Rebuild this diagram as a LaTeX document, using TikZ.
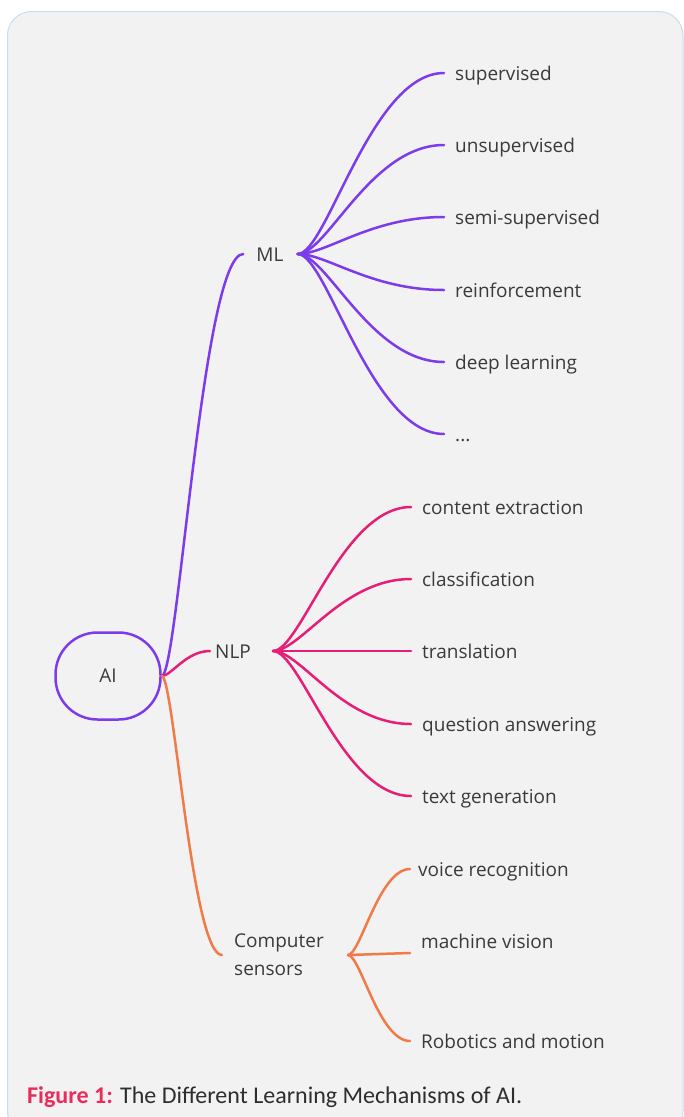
\documentclass[tikz,border=0pt]{standalone}
\usepackage{fontspec}
\setmainfont{Open Sans}
\newfontfamily\capfont{Carlito}
\usetikzlibrary{calc}
\definecolor{bgcol}{RGB}{242,242,242}
\definecolor{framecol}{RGB}{200,222,240}
\definecolor{mlcol}{RGB}{125,60,235}
\definecolor{nlpcol}{RGB}{230,30,120}
\definecolor{sencol}{RGB}{240,122,72}
\definecolor{txtcol}{RGB}{58,58,58}
\definecolor{figcol}{RGB}{232,45,90}
\tikzset{
  lbl/.style={font=\fontsize{19}{26}\selectfont, text=txtcol, inner sep=0pt, text height=16pt, text depth=2pt},
  leaf/.style={lbl, anchor=west},
  conn/.style={line width=2.5pt, line cap=round},
  curv/.style={to path={let \p1=(\tikztostart), \p2=(\tikztotarget), \n1={\x2-\x1} in
      .. controls (\x1+0.2*\n1,\y1) and (\x2-0.5*\n1,\y2) .. (\tikztotarget) \tikztonodes}},
  aibox/.style={draw=mlcol, line width=2.5pt, rounded corners=42pt, minimum width=105pt, minimum height=87pt,
      font=\fontsize{19}{26}\selectfont, text=txtcol}
}
\begin{document}
\begin{tikzpicture}[x=1pt,y=-1pt]
\useasboundingbox (0,0) rectangle (684,1117);
\begin{scope}
\clip (0,0) rectangle (684,1117);
\draw[framecol, fill=bgcol, line width=1pt, rounded corners=24pt] (7.5,11.5) rectangle (683,1135);
\end{scope}

% root
\node[aibox] (ai) at (108,676) {AI};

% level 1
\node[lbl] (ml) at (270,254) {ML};
\node[lbl] (nlp) at (233,651) {NLP};
\node[lbl, align=left, anchor=west, text height=, text depth=, font=\fontsize{19}{28}\selectfont] (sen) at (234,955) {Computer\\sensors};

% ML leaves
\node[leaf] (sup) at (455,73) {supervised};
\node[leaf] (uns) at (455,145) {unsupervised};
\node[leaf] (semi) at (455,217) {semi-supervised};
\node[leaf] (rein) at (455,290) {reinforcement};
\node[leaf] (deep) at (455,362) {deep learning};
\node[leaf] (dots) at (455,434) {...};

% NLP leaves
\node[leaf] (cont) at (422,507) {content extraction};
\node[leaf] (clas) at (422,579) {classification};
\node[leaf] (tran) at (422,651) {translation};
\node[leaf] (qa) at (422,724) {question answering};
\node[leaf] (tgen) at (422,796) {text generation};

% Sensor leaves
\node[leaf] (voice) at (418,869) {voice recognition};
\node[leaf] (mv) at (421,941) {machine vision};
\node[leaf] (rob) at (421,1041) {Robotics and motion};

% connectors from AI
\draw[conn, mlcol] (ai.east) to[curv] ([xshift=-13pt]ml.west);
\draw[conn, nlpcol] (ai.east) to[curv] ([xshift=-5pt]nlp.west);
\draw[conn, sencol] (ai.east) to[curv] ([xshift=-12pt]sen.west);

% ML branches
\foreach \t in {sup,uns,semi,rein,deep,dots}
  \draw[conn, mlcol] ([xshift=14pt]ml.east) to[curv] ([xshift=-11pt]\t.west);
% NLP branches
\foreach \t in {cont,clas,tran,qa,tgen}
  \draw[conn, nlpcol] ([xshift=22pt]nlp.east) to[curv] ([xshift=-11pt]\t.west);
% Sensor branches
\coordinate (senout) at ([xshift=24pt]sen.east);
\draw[conn, sencol] (senout) to[curv] ([xshift=-8pt]voice.west);
\draw[conn, sencol] (senout) -- (410,953);
\draw[conn, sencol] (senout) to[curv] ([xshift=-11pt]rob.west);

% caption
\node[anchor=base west, inner sep=0pt, font=\capfont\fontsize{24}{28}\selectfont, text=txtcol!80!black] (cap) at (27,1103)
  {\textcolor{figcol}{\bfseries Figure 1:} The Different Learning Mechanisms of AI.};
\end{tikzpicture}
\end{document}
